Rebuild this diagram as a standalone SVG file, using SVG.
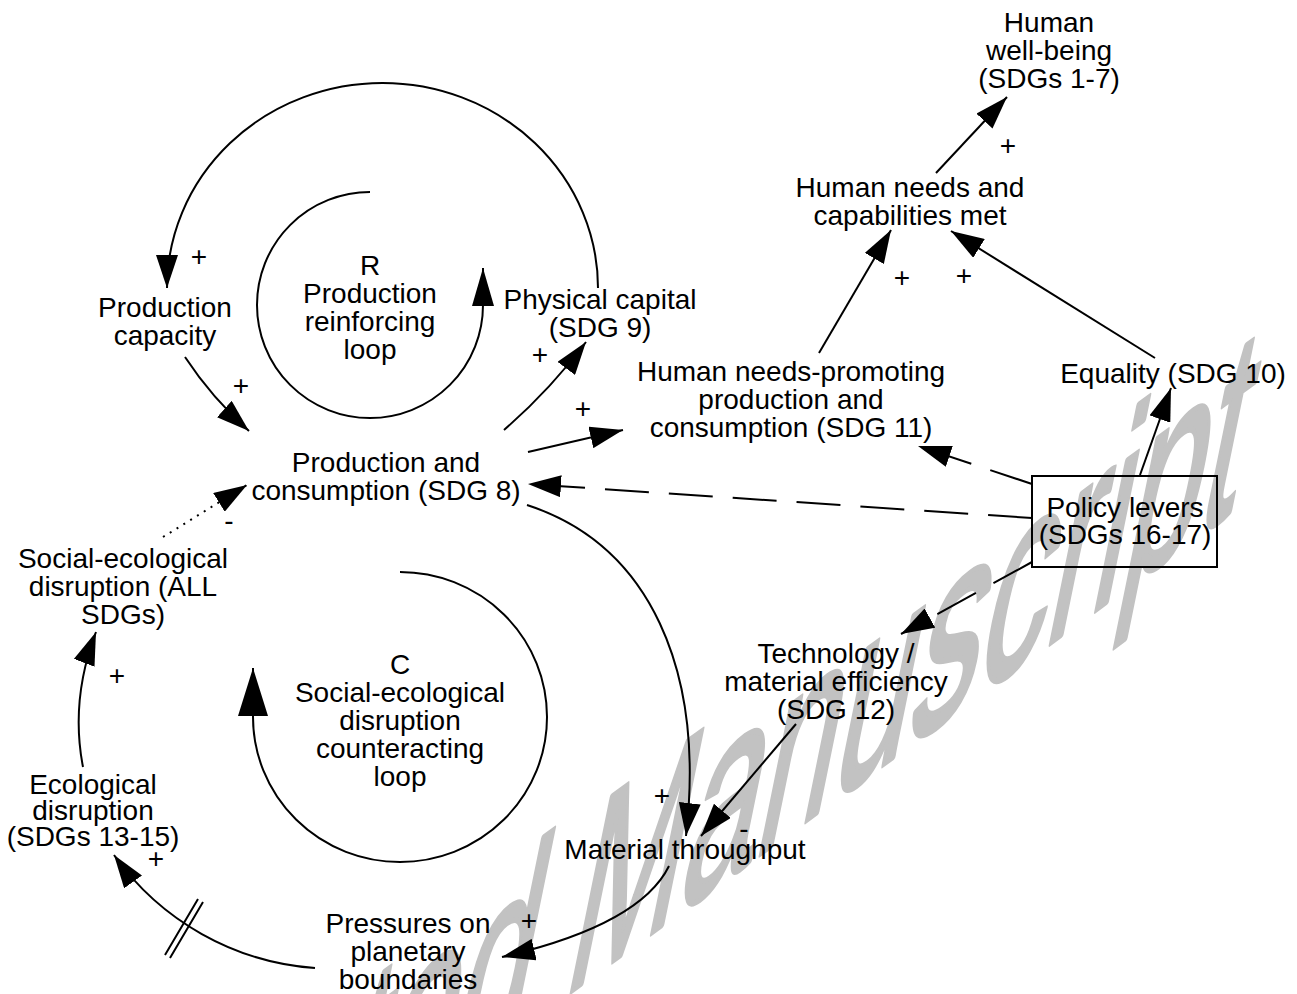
<svg xmlns="http://www.w3.org/2000/svg" width="1297" height="994" viewBox="0 0 1297 994">
<style>
.t{font-family:"Liberation Sans",Arial,sans-serif;font-size:28px;text-anchor:middle;fill:#000}
.c{fill:none;stroke:#000;stroke-width:2}
.d{stroke-dasharray:44 20}
.dt{stroke-dasharray:2 6}
.wm{font-family:"Liberation Sans",Arial,sans-serif;fill:#c2c2c2;stroke:#c2c2c2;stroke-width:6;stroke-linejoin:round}
</style>
<defs>
<marker id="a" viewBox="0 0 33 22" refX="33" refY="11" markerWidth="33" markerHeight="22" markerUnits="userSpaceOnUse" orient="auto"><path d="M0,0L33,11L0,22z" fill="#000"/></marker>
<marker id="aR" viewBox="0 0 38 22" refX="38" refY="11" markerWidth="38" markerHeight="22" markerUnits="userSpaceOnUse" orient="auto"><path d="M0,0L38,11L0,22z" fill="#000"/></marker>
<marker id="aC" viewBox="0 0 48 30" refX="48" refY="15" markerWidth="48" markerHeight="30" markerUnits="userSpaceOnUse" orient="auto"><path d="M0,0L48,15L0,30z" fill="#000"/></marker>
</defs>
<rect width="1297" height="994" fill="#fff"/>
<g id="watermark" transform="matrix(0.809 -0.588 -0.2 0.98 560 1000)">
<text class="wm" x="-755" y="0" font-size="290" textLength="1585" lengthAdjust="spacingAndGlyphs">Accepted Manuscript</text>
</g>
<g id="connectors">
<path class="c" d="M598,288 A215.5,205 0 0 0 167,288" marker-end="url(#a)"/>
<path class="c" d="M370,192 A113,113 0 1 0 483,305 L483,268" marker-end="url(#aR)"/>
<path class="c" d="M400,572 A147,145 0 1 1 253,717 L253,668" marker-end="url(#aC)"/>
<path class="c" d="M185,357 Q212,398 249,431" marker-end="url(#a)"/>
<path class="c" d="M504,430 Q550,390 586,342" marker-end="url(#a)"/>
<path class="c" d="M528,452 L623,430" marker-end="url(#a)"/>
<path class="c" d="M819,353 L891,230" marker-end="url(#a)"/>
<path class="c" d="M1155,358 L951,231" marker-end="url(#a)"/>
<path class="c" d="M936,173 L1007,97" marker-end="url(#a)"/>
<path class="c" d="M1140,475 L1171,388" marker-end="url(#a)"/>
<path class="c d" d="M1032,484 L918,446" marker-end="url(#a)"/>
<path class="c d" d="M1032,518 L528,484" marker-end="url(#a)"/>
<path class="c d" d="M1032,562 L901,634" marker-end="url(#a)"/>
<path class="c" d="M527,505 C650,545 705,670 686,836" marker-end="url(#a)"/>
<path class="c" d="M796,724 L701,836" marker-end="url(#a)"/>
<path class="c" d="M669,866 Q640,925 502,957" marker-end="url(#a)"/>
<path class="c" d="M315,968 A270,270 0 0 1 114,855" marker-end="url(#a)"/>
<path class="c" d="M83,767 Q70,700 96,632" marker-end="url(#a)"/>
<path class="c dt" d="M163,537 L247,485" marker-end="url(#a)"/>
<path class="c" d="M165,955 L198,899 M170,958 L203,902"/>
</g>
<g id="signs">
<text class="t" x="199" y="266">+</text>
<text class="t" x="241" y="395">+</text>
<text class="t" x="540" y="364">+</text>
<text class="t" x="583" y="418">+</text>
<text class="t" x="1008" y="155">+</text>
<text class="t" x="902" y="287">+</text>
<text class="t" x="964" y="285">+</text>
<text class="t" x="117" y="685">+</text>
<text class="t" x="156" y="868">+</text>
<text class="t" x="662" y="805">+</text>
<text class="t" x="529" y="930">+</text>
<text class="t" x="229" y="530">-</text>
<text class="t" x="744" y="838">-</text>
</g>
<g id="n-wellbeing"><text class="t" x="1049" y="32">Human</text><text class="t" x="1049" y="60">well-being</text><text class="t" x="1049" y="88">(SDGs 1-7)</text></g>
<g id="n-needsmet"><text class="t" x="910" y="197">Human needs and</text><text class="t" x="910" y="225">capabilities met</text></g>
<g id="n-rloop"><text class="t" x="370" y="275">R</text><text class="t" x="370" y="303">Production</text><text class="t" x="370" y="331">reinforcing</text><text class="t" x="370" y="359">loop</text></g>
<g id="n-capacity"><text class="t" x="165" y="317">Production</text><text class="t" x="165" y="345">capacity</text></g>
<g id="n-physical"><text class="t" x="600" y="309">Physical capital</text><text class="t" x="600" y="337">(SDG 9)</text></g>
<g id="n-hnp"><text class="t" x="791" y="381">Human needs-promoting</text><text class="t" x="791" y="409">production and</text><text class="t" x="791" y="437">consumption (SDG 11)</text></g>
<g id="n-equality"><text class="t" x="1173" y="383">Equality (SDG 10)</text></g>
<g id="n-pc"><text class="t" x="386" y="472">Production and</text><text class="t" x="386" y="500">consumption (SDG 8)</text></g>
<g id="n-policy"><rect x="1032" y="476" width="185" height="91" fill="none" stroke="#000" stroke-width="2"/><text class="t" x="1125" y="517">Policy levers</text><text class="t" x="1125" y="544">(SDGs 16-17)</text></g>
<g id="n-social"><text class="t" x="123" y="568">Social-ecological</text><text class="t" x="123" y="596">disruption (ALL</text><text class="t" x="123" y="624">SDGs)</text></g>
<g id="n-cloop"><text class="t" x="400" y="674">C</text><text class="t" x="400" y="702">Social-ecological</text><text class="t" x="400" y="730">disruption</text><text class="t" x="400" y="758">counteracting</text><text class="t" x="400" y="786">loop</text></g>
<g id="n-tech"><text class="t" x="836" y="663">Technology /</text><text class="t" x="836" y="691">material efficiency</text><text class="t" x="836" y="719">(SDG 12)</text></g>
<g id="n-eco"><text class="t" x="93" y="794">Ecological</text><text class="t" x="93" y="820">disruption</text><text class="t" x="93" y="846">(SDGs 13-15)</text></g>
<g id="n-material"><text class="t" x="685" y="859">Material throughput</text></g>
<g id="n-pressures"><text class="t" x="408" y="933">Pressures on</text><text class="t" x="408" y="961">planetary</text><text class="t" x="408" y="989">boundaries</text></g>
</svg>
